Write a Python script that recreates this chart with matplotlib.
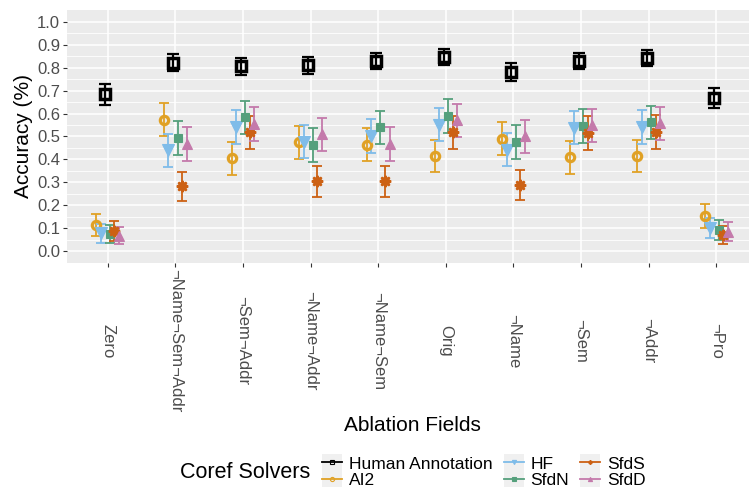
import matplotlib.pyplot as plt
import numpy as np
from matplotlib.lines import Line2D
from matplotlib.patches import Rectangle
from matplotlib.legend_handler import HandlerLine2D

plt.rcParams['font.family'] = ['Liberation Sans', 'DejaVu Sans']

fields = ['Zero', '¬Name¬Sem¬Addr', '¬Sem¬Addr', '¬Name¬Addr', '¬Name¬Sem',
          'Orig', '¬Name', '¬Sem', '¬Addr', '¬Pro']

solvers = ['Human Annotation', 'AI2', 'HF', 'SfdN', 'SfdS', 'SfdD']

human = [0.684, 0.821, 0.806, 0.810, 0.829, 0.848, 0.780, 0.829, 0.843, 0.669]
human_err = [0.045, 0.037, 0.037, 0.037, 0.035, 0.035, 0.039, 0.036, 0.035, 0.044]

ai2 = [0.114, 0.573, 0.404, 0.474, 0.464, 0.414, 0.491, 0.410, 0.414, 0.152]
ai2_err = [0.047, 0.072, 0.071, 0.073, 0.073, 0.071, 0.073, 0.072, 0.071, 0.053]

hf = [0.077, 0.439, 0.541, 0.478, 0.503, 0.552, 0.442, 0.539, 0.541, 0.101]
hf_err = [0.040, 0.073, 0.073, 0.072, 0.073, 0.072, 0.072, 0.073, 0.073, 0.045]

sfdn = [0.074, 0.493, 0.585, 0.464, 0.541, 0.590, 0.475, 0.545, 0.563, 0.092]
sfdn_err = [0.038, 0.073, 0.072, 0.074, 0.072, 0.073, 0.073, 0.073, 0.072, 0.043]

sfds = [0.087, 0.283, 0.519, 0.305, 0.305, 0.519, 0.289, 0.515, 0.519, 0.070]
sfds_err = [0.043, 0.064, 0.072, 0.067, 0.067, 0.072, 0.066, 0.073, 0.073, 0.038]

sfdd = [0.066, 0.466, 0.554, 0.509, 0.466, 0.570, 0.500, 0.548, 0.558, 0.085]
sfdd_err = [0.037, 0.074, 0.073, 0.073, 0.074, 0.072, 0.073, 0.073, 0.072, 0.041]

values = [human, ai2, hf, sfdn, sfds, sfdd]
errors = [human_err, ai2_err, hf_err, sfdn_err, sfds_err, sfdd_err]

colors = ['#000000', '#E0A125', '#7FBCE9', '#55A07C', '#CC6114', '#C47AAB']
markers = ['s', 'o', 'v', 's', (8, 1, 0), '^']
msizes = [6.5, 6, 8, 5.5, 8, 7]
filled = [False, False, True, True, True, True]
edgew = [2.5, 2.3, 0.8, 0.8, 1.6, 0.8]
# dodge order across the group (AI2, HF, Human, SfdN, SfdS, SfdD)
offsets = [-0.5, -2.5, -1.5, 0.5, 1.5, 2.5]
step = 0.067


class KeyHandler(HandlerLine2D):
    # ggplot-like grey key box behind each legend entry
    def create_artists(self, legend, orig_handle, xdescent, ydescent,
                       width, height, fontsize, trans):
        bh = height * 1.4
        box = Rectangle((-xdescent, height / 2 - bh / 2 - ydescent), width, bh,
                        facecolor='#F0F0F0', edgecolor='none',
                        transform=trans)
        arts = super().create_artists(legend, orig_handle, xdescent, ydescent,
                                      width, height, fontsize, trans)
        return [box] + list(arts)


fig = plt.figure(figsize=(7.49, 4.87), dpi=100)
ax = fig.add_axes([0.0895, 0.46, 0.9212, 0.5195])
ax.set_facecolor('#EBEBEB')
ax.set_axisbelow(True)
for side in ax.spines:
    ax.spines[side].set_visible(False)

x = np.arange(len(fields))
for i in range(len(solvers)):
    lw = 1.6 if i == 0 else 1.3
    cap = 4 if i == 0 else 3.5
    mfc = 'none' if not filled[i] else colors[i]
    ax.errorbar(x + offsets[i] * step, values[i], yerr=errors[i],
                fmt='none', ecolor=colors[i], elinewidth=lw, capsize=cap,
                capthick=lw, zorder=3)
    ax.plot(x + offsets[i] * step, values[i], linestyle='none',
            marker=markers[i], markersize=msizes[i], color=colors[i],
            markerfacecolor=mfc, markeredgewidth=edgew[i], zorder=4)

ax.set_xlim(-0.6, 9.6)
ax.set_ylim(-0.052, 1.052)
ax.set_xticks(x)
ax.set_xticklabels(fields, rotation=270, ha='center', va='center')
ax.set_yticks(np.arange(0, 1.01, 0.1))
ax.set_yticklabels(['{:.1f}'.format(v) for v in np.arange(0, 1.01, 0.1)])
ax.set_yticks(np.arange(0.05, 1.0, 0.1), minor=True)
ax.tick_params(axis='both', which='major', length=3, width=0.8,
               color='#333333', labelcolor='#4D4D4D', labelsize=12)
ax.tick_params(axis='x', pad=53)
ax.tick_params(axis='y', pad=2)
ax.tick_params(which='minor', length=0)

ax.grid(which='major', color='white', linewidth=1.1)
ax.grid(which='minor', axis='y', color='white', linewidth=0.6)

ax.set_ylabel('Accuracy (%)', fontsize=15, labelpad=3)
ax.set_xlabel('Ablation Fields', fontsize=15)
ax.xaxis.set_label_coords(0.5, -0.644)
ax.xaxis.label.set_va('center')

handles = []
for i in range(len(solvers)):
    mfc = 'none' if not filled[i] else colors[i]
    handles.append(Line2D([0], [0], color=colors[i], linewidth=1.3,
                          marker=markers[i], markersize=3,
                          markerfacecolor=mfc, markeredgewidth=0.8))

fig.text(0.24, 0.029, 'Coref Solvers', fontsize=15.5, ha='left', va='center')
fig.legend(handles, solvers, ncol=3, loc='center left',
           bbox_to_anchor=(0.43, 0.03), frameon=False, fontsize=12.5,
           handlelength=1.15, handletextpad=0.4, columnspacing=0.63,
           labelspacing=0.1, borderpad=0, borderaxespad=0,
           handler_map={Line2D: KeyHandler(marker_pad=0.25)})

plt.savefig('out.png', dpi=100)
